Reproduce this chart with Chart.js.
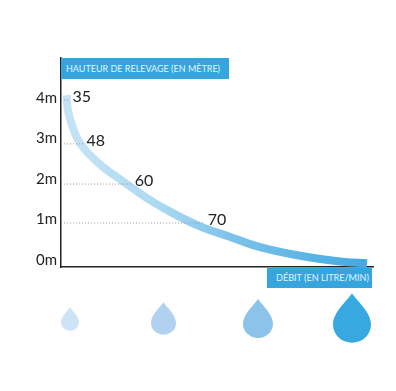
<!DOCTYPE html>
<html lang="fr">
<head>
  <meta charset="UTF-8">
  <title>Hauteur de relevage</title>
  <script src="https://cdn.jsdelivr.net/npm/chart.js"></script>
  <style>
    body { margin: 0; background: #fff; }
    #wrap { position: relative; width: 396px; height: 391px; overflow: hidden; font-family: Lato, sans-serif; }
    canvas { position: absolute; left: 0; top: 0; }
    .box { position: absolute; background: #36a5de; color: #e4f3fb; line-height: 21px; white-space: nowrap; }
    #yTitle { left: 61px; top: 58px; width: 163px; height: 21px; padding-left: 5px; font-size: 9px; }
    #xTitle { left: 267px; top: 268px; width: 96px; height: 20px; line-height: 20px; padding-left: 9px; font-size: 9.1px; }
    .drop { position: absolute; }
  </style>
</head>
<body>
  <div id="wrap">
    <canvas id="chart" width="396" height="391"></canvas>
    <div class="box" id="yTitle">HAUTEUR DE RELEVAGE (EN MÈTRE)</div>
    <div class="box" id="xTitle">DÉBIT (EN LITRE/MIN)</div>
    <svg class="drop" style="left:61px;top:307px" width="18" height="24" viewBox="0 0 40 52"><path fill="#cfe3f7" d="M20 0C26 9 40 20 40 33A20 19 0 0 1 0 33C0 20 14 9 20 0Z"/></svg>
    <svg class="drop" style="left:151px;top:302px" width="25" height="33" viewBox="0 0 40 52"><path fill="#b0d2f0" d="M20 0C26 9 40 20 40 33A20 19 0 0 1 0 33C0 20 14 9 20 0Z"/></svg>
    <svg class="drop" style="left:243px;top:299px" width="30" height="39" viewBox="0 0 40 52"><path fill="#8cc3ea" d="M20 0C26 9 40 20 40 33A20 19 0 0 1 0 33C0 20 14 9 20 0Z"/></svg>
    <svg class="drop" style="left:333px;top:293px" width="38" height="50" viewBox="0 0 40 52"><path fill="#37a9e0" d="M20 0C26 9 40 20 40 33A20 19 0 0 1 0 33C0 20 14 9 20 0Z"/></svg>
  </div>

  <script>
    // courbe (x = position le long de l'axe, y = metres)
    const curveX = [1.8, 2.2, 3.3, 5.5, 8.6, 13.4, 19.8, 27.5, 32.7, 43.6, 54.2, 63.8, 76.6, 89.4, 98.1];
    const curveY = [4.12, 3.76, 3.44, 3.02, 2.71, 2.37, 2.02, 1.61, 1.37, 0.95, 0.66, 0.41, 0.2, 0.06, 0.02];

    // debits repères
    const flowLabels = ['35', '48', '60', '70'];
    const flowX = [2.9, 7.4, 22.8, 46.2];
    const flowY = [4.0, 2.93, 1.95, 1.0];

    const yTicks = [0, 1, 2, 3, 4];
    const yTickLabels = ['0m', '1m', '2m', '3m', '4m'];

    const dottedStart = 1;

    const dottedSets = flowX.map((x, i) => ({
      data: [{ x: dottedStart, y: flowY[i] }, { x: x, y: flowY[i] }],
      borderColor: '#999',
      borderWidth: 1,
      borderDash: [1, 2],
      pointRadius: 0,
      order: 0
    }));

    const flowLabelPlugin = {
      id: 'flowLabels',
      afterDatasetsDraw(chart) {
        const ctx = chart.ctx;
        ctx.save();
        ctx.font = '16px Lato, sans-serif';
        ctx.fillStyle = '#222';
        ctx.textBaseline = 'middle';
        flowLabels.forEach((txt, i) => {
          const pt = chart.getDatasetMeta(i + 1).data[1];
          ctx.fillText(txt, pt.x + 2.5, pt.y - 3);
        });
        ctx.restore();
      }
    };

    new Chart(document.getElementById('chart'), {
      type: 'line',
      data: {
        datasets: [
          {
            data: curveX.map((x, i) => ({ x: x, y: curveY[i] })),
            borderWidth: 8,
            borderCapStyle: 'butt',
            tension: 0.4,
            pointRadius: 0,
            order: 1,
            borderColor(c) {
              const area = c.chart.chartArea;
              if (!area) return '#8cc3ea';
              const g = c.chart.ctx.createLinearGradient(area.left, 0, area.right, 0);
              g.addColorStop(0, '#c6e4f5');
              g.addColorStop(0.3, '#aedaf2');
              g.addColorStop(0.55, '#7cc2ea');
              g.addColorStop(1, '#3fa9e0');
              return g;
            }
          },
          ...dottedSets
        ]
      },
      options: {
        responsive: false,
        animation: false,
        layout: { padding: { top: 58, bottom: 124, right: 23 } },
        plugins: { legend: { display: false }, tooltip: { enabled: false } },
        scales: {
          x: {
            type: 'linear',
            min: 0,
            max: 100,
            grid: { display: false },
            border: { color: '#222', width: 1.5 },
            ticks: { display: false },
            afterFit(s) { s.height = 0; }
          },
          y: { type: 'linear', display: false, min: -0.073, max: 5.024 },
          yLabels: {
            type: 'linear',
            position: 'left',
            min: -0.173,
            max: 4.99,
            grid: { display: false, drawTicks: false },
            border: { color: '#222', width: 1.5 },
            afterBuildTicks(s) { s.ticks = yTicks.map(v => ({ value: v })); },
            afterFit(s) { s.width = 61; },
            ticks: {
              color: '#222',
              padding: 4,
              font: { family: 'Lato, sans-serif', size: 15 },
              callback: (v) => yTickLabels[yTicks.indexOf(v)]
            }
          }
        }
      },
      plugins: [flowLabelPlugin]
    });
  </script>
</body>
</html>
